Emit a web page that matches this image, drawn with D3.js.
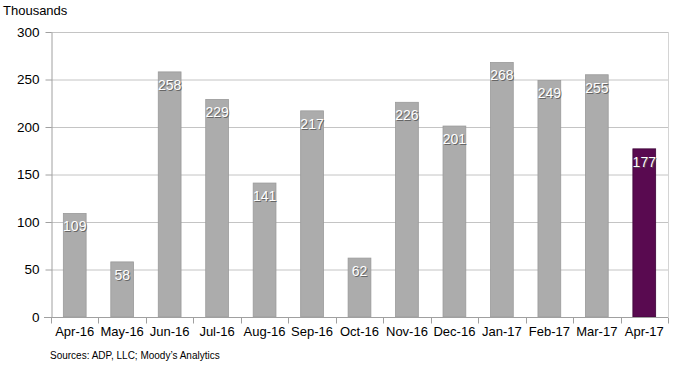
<!DOCTYPE html>
<html>
<head>
<meta charset="UTF-8">
<style>
  body{margin:0;background:#fff;font-family:Arial,'Liberation Sans',sans-serif}
  svg{display:block}
</style>
</head>
<body>
<svg id="chart" width="680" height="367"></svg>
<script src="https://d3js.org/d3.v7.min.js"></script>
<script>
// data
const months = ["Apr-16","May-16","Jun-16","Jul-16","Aug-16","Sep-16","Oct-16",
                "Nov-16","Dec-16","Jan-17","Feb-17","Mar-17","Apr-17"];
const jobs   = [109,58,258,229,141,217,62,226,201,268,249,255,177];
const yTicks = [0,50,100,150,200,250,300];

const pL=51,pR=668,pT=32,pB=317;
const svg=d3.select("#chart");

const x=d3.scaleBand().domain(months).range([pL,pR]).paddingInner(0.52).paddingOuter(0.26);
const y=d3.scaleLinear().domain([0,300]).range([pB,pT]);

// grid
svg.append("g").selectAll("line").data(yTicks.slice(1)).join("line")
   .attr("x1",pL).attr("x2",pR)
   .attr("y1",d=>y(d)+0.5).attr("y2",d=>y(d)+0.5)
   .attr("stroke","#c4c4c4").attr("stroke-width",1);
svg.append("line").attr("x1",pR+0.5).attr("x2",pR+0.5)
   .attr("y1",pT).attr("y2",pB).attr("stroke","#d4d4d4");

// bars
svg.append("g").selectAll("rect").data(months).join("rect")
   .attr("x",d=>x(d)).attr("width",x.bandwidth())
   .attr("y",(d,i)=>y(jobs[i])).attr("height",(d,i)=>pB-y(jobs[i]))
   .attr("fill",(d,i)=>i===months.length-1?"#590a50":"#acacac")
   .attr("stroke",(d,i)=>i===months.length-1?"#3f0639":"#9a9a9a").attr("stroke-width",0.8);

// y axis
const yAx=svg.append("g").attr("transform",`translate(${pL+0.5},0)`)
   .call(d3.axisLeft(y).tickValues(yTicks).tickSize(6).tickPadding(6).tickSizeOuter(0));
yAx.select(".domain").attr("stroke","#a0a0a0");
yAx.selectAll(".tick line").attr("stroke","#a0a0a0");
yAx.selectAll("text").attr("font-size",13.5).attr("fill","#000")
   .attr("font-family","Arial,'Liberation Sans',sans-serif");

// x axis
const ticksX=d3.range(months.length+1).map(i=>pL+i*(pR-pL)/months.length);
const xAx=svg.append("g").attr("transform",`translate(0,${pB+0.5})`);
xAx.append("line").attr("x1",pL-7).attr("x2",pR).attr("stroke","#a0a0a0");
xAx.selectAll("line.t").data(ticksX).join("line").attr("class","t")
   .attr("x1",d=>Math.round(d)+0.5).attr("x2",d=>Math.round(d)+0.5)
   .attr("y1",0).attr("y2",6).attr("stroke","#a0a0a0");
xAx.selectAll("text").data(months).join("text")
   .attr("x",d=>x(d)+x.bandwidth()/2).attr("y",18)
   .attr("text-anchor","middle").attr("font-size",13).attr("fill","#000")
   .text(d=>d);

// value labels (white with a dark shadow)
const lab=svg.append("g").selectAll("g").data(months).join("g")
   .attr("transform",(d,i)=>`translate(${x(d)+x.bandwidth()/2},${y(jobs[i])+18})`);
lab.append("text").attr("x",1).attr("y",1).attr("text-anchor","middle")
   .attr("font-size",14).attr("fill","#555").attr("opacity",0.8).text((d,i)=>jobs[i]);
lab.append("text").attr("text-anchor","middle")
   .attr("font-size",14).attr("fill","#fff").text((d,i)=>jobs[i]);

// titles
svg.append("text").attr("x",3).attr("y",15).attr("font-size",13).attr("fill","#000")
   .text("Thousands");
svg.append("text").attr("x",50).attr("y",359).attr("font-size",10).attr("fill","#000")
   .text("Sources: ADP, LLC; Moody\u2019s Analytics");
</script>
</body>
</html>
